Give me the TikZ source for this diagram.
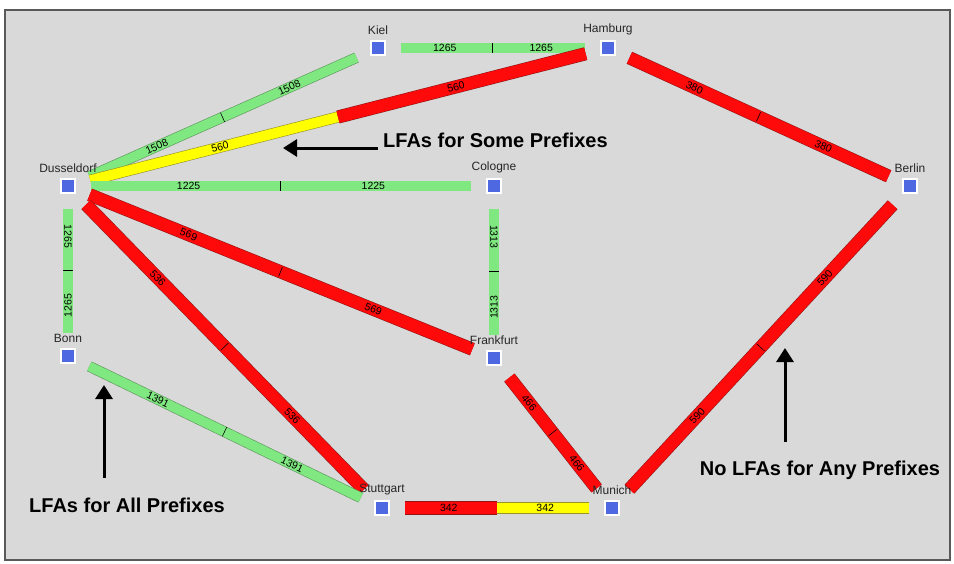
\documentclass[tikz,border=0pt]{standalone}
\usepackage{fontspec}
\setmainfont{Liberation Sans}
\usetikzlibrary{calc,arrows.meta,backgrounds}

\definecolor{panel}{RGB}{217,217,217}
\definecolor{routerblue}{RGB}{78,104,226}
\definecolor{lgreen}{RGB}{128,232,128}
\definecolor{lgreenline}{RGB}{90,150,90}
\definecolor{lred}{RGB}{255,10,10}
\definecolor{lredline}{RGB}{150,20,20}
\definecolor{lyellow}{RGB}{255,255,0}
\definecolor{lyellowline}{RGB}{150,150,40}

\tikzset{
	router/.style={rectangle, fill=routerblue, draw=white, line width=1.6pt, minimum size=14pt, inner sep=0pt},
	city/.style={font=\fontsize{12}{14}\selectfont, text=black!85, label distance=2pt},
	greenbar/.style={draw=lgreenline, double=lgreen, double distance=9.5pt, line width=0.6pt, shorten <=15pt},
	redbar/.style={draw=lredline, double=lred, double distance=12pt, line width=0.6pt, shorten <=15pt},
	yellowbar/.style={draw=lyellowline, double=lyellow, double distance=10pt, line width=0.6pt, shorten <=15pt},
	barlabel/.style={sloped, font=\fontsize{10.5}{10.5}\selectfont, inner sep=0pt, pos=.55},
	midtick/.style={sloped, fill=black, inner sep=0pt, minimum width=1.6pt, minimum height=10pt, pos=1},
	callout/.style={font=\fontsize{20}{24}\selectfont\bfseries, inner sep=0pt},
	callarrow/.style={line width=3pt, -{Triangle[length=14pt,width=17pt]}},
}

\begin{document}
\begin{tikzpicture}[x=1pt, y=-1pt]
	\useasboundingbox (0,0) rectangle (954,563);

	% routers
	\node[router, label={[city]above:Kiel}] (kiel) at (378,48) {};
	\node[router, label={[city]above:Hamburg}] (ham) at (608,48) {};
	\node[router, label={[city]above:Dusseldorf}] (dus) at (68,186) {};
	\node[router, label={[city]above:Cologne}] (col) at (494,186) {};
	\node[router, label={[city]above:Berlin}] (ber) at (910,186) {};
	\node[router, label={[city]above:Bonn}] (bonn) at (68,356) {};
	\node[router, label={[city]above:Frankfurt}] (fra) at (494,358) {};
	\node[router, label={[city]above:Stuttgart}] (stu) at (382,508) {};
	\node[router, label={[city]above:Munich}] (mun) at (612,508) {};

	% link midpoints
	\coordinate (m-kh) at ($(kiel)!.5!(ham)$);
	\coordinate (m-dk) at ($(dus)!.5!(kiel)$);
	\coordinate (m-dh) at ($(dus)!.5!(ham)$);
	\coordinate (m-dc) at ($(dus)!.5!(col)$);
	\coordinate (m-hb) at ($(ham)!.5!(ber)$);
	\coordinate (m-db) at ($(dus)!.5!(bonn)$);
	\coordinate (m-cf) at ($(col)!.5!(fra)$);
	\coordinate (m-df) at ($(dus)!.5!(fra)$);
	\coordinate (m-ds) at ($(dus)!.5!(stu)$);
	\coordinate (m-bs) at ($(bonn)!.5!(stu)$);
	\coordinate (m-fm) at ($(fra)!.5!(mun)$);
	\coordinate (m-sm) at ($(stu)!.5!(mun)$);
	\coordinate (m-mb) at ($(mun)!.5!(ber)$);

	\begin{scope}[on background layer]
		\fill[white] (0,0) rectangle (954,563);
		\draw[fill=panel, draw=black!65, line width=1.5pt] (5,10) rectangle (950,560);

		% links, one half from each end
		\draw[greenbar] (kiel) -- (m-kh) node[midtick] {} node[barlabel] {1265};
		\draw[greenbar] (ham) -- (m-kh) node[barlabel] {1265};

		\draw[greenbar] (dus) -- (m-dk) node[midtick] {} node[barlabel] {1508};
		\draw[greenbar] (kiel) -- (m-dk) node[barlabel] {1508};

		\draw[yellowbar] (dus) -- (m-dh) node[barlabel] {560};
		\draw[redbar] (ham) -- (m-dh) node[barlabel] {560};

		\draw[greenbar] (dus) -- (m-dc) node[midtick] {} node[barlabel] {1225};
		\draw[greenbar] (col) -- (m-dc) node[barlabel] {1225};

		\draw[redbar] (ham) -- (m-hb) node[midtick] {} node[barlabel] {380};
		\draw[redbar] (ber) -- (m-hb) node[barlabel] {380};

		\draw[greenbar] (dus) -- (m-db) node[midtick] {} node[barlabel] {1265};
		\draw[greenbar] (bonn) -- (m-db) node[barlabel] {1265};

		\draw[greenbar] (col) -- (m-cf) node[midtick] {} node[barlabel] {1313};
		\draw[greenbar] (fra) -- (m-cf) node[barlabel] {1313};

		\draw[redbar] (dus) -- (m-df) node[midtick] {} node[barlabel] {569};
		\draw[redbar] (fra) -- (m-df) node[barlabel] {569};

		\draw[redbar] (dus) -- (m-ds) node[midtick] {} node[barlabel] {536};
		\draw[redbar] (stu) -- (m-ds) node[barlabel] {536};

		\draw[greenbar] (bonn) -- (m-bs) node[midtick] {} node[barlabel] {1391};
		\draw[greenbar] (stu) -- (m-bs) node[barlabel] {1391};

		\draw[redbar] (fra) -- (m-fm) node[midtick] {} node[barlabel] {466};
		\draw[redbar] (mun) -- (m-fm) node[barlabel] {466};

		\draw[redbar] (stu) -- (m-sm) node[barlabel] {342};
		\draw[yellowbar] (mun) -- (m-sm) node[barlabel] {342};

		\draw[redbar] (mun) -- (m-mb) node[midtick] {} node[barlabel] {590};
		\draw[redbar] (ber) -- (m-mb) node[barlabel] {590};
	\end{scope}

	% callouts
	\node[callout, anchor=west] (some) at (383,140) {LFAs for Some Prefixes};
	\node[callout] (none) at (820,470) {No LFAs for Any Prefixes};
	\node[callout] (all) at (127,505) {LFAs for All Prefixes};

	\coordinate (some-tip) at (283,148);
	\coordinate (none-tail) at (785,442);
	\coordinate (none-tip) at (785,348);
	\coordinate (all-tail) at (104,478);
	\coordinate (all-tip) at (104,385);

	\draw[callarrow] (some.west |- some-tip) ++(-5,0) -- (some-tip);
	\draw[callarrow] (none-tail) -- (none-tip);
	\draw[callarrow] (all-tail) -- (all-tip);
\end{tikzpicture}
\end{document}
